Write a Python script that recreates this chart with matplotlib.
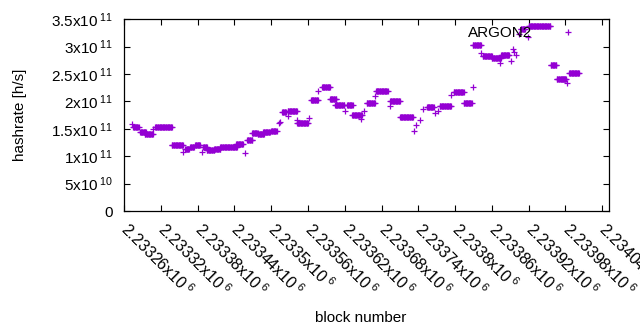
import numpy as np
import matplotlib.pyplot as plt

plt.rcParams['font.family'] = ['Liberation Sans', 'DejaVu Sans']
plt.rcParams['mathtext.fontset'] = 'custom'
plt.rcParams['mathtext.rm'] = 'Liberation Sans'
plt.rcParams['mathtext.it'] = 'Liberation Sans'

# runs of blocks with (almost) the same hashrate
run_start = [2233273, 2233275, 2233286, 2233294, 2233308, 2233311, 2233338, 2233357,
             2233360, 2233368, 2233376, 2233387, 2233389, 2233395, 2233407, 2233417,
             2233443, 2233457, 2233461, 2233469, 2233478, 2233487, 2233500, 2233512,
             2233514, 2233518, 2233527, 2233527, 2233542, 2233542, 2233561, 2233565,
             2233577, 2233583, 2233596, 2233604, 2233620, 2233624, 2233632, 2233646,
             2233651, 2233656, 2233670, 2233671, 2233694, 2233694, 2233710, 2233733,
             2233737, 2233743, 2233748, 2233754, 2233767, 2233772, 2233775, 2233794,
             2233798, 2233814, 2233829, 2233829, 2233842, 2233845, 2233860, 2233874,
             2233875, 2233891, 2233894, 2233896, 2233900, 2233905, 2233907, 2233919,
             2233920, 2233956, 2233966, 2233976, 2233983, 2233986]
run_end = [2233273, 2233284, 2233296, 2233307, 2233308, 2233338, 2233356, 2233357,
           2233366, 2233374, 2233384, 2233387, 2233395, 2233407, 2233417, 2233444,
           2233454, 2233457, 2233469, 2233478, 2233488, 2233498, 2233509, 2233512,
           2233514, 2233524, 2233527, 2233542, 2233542, 2233560, 2233561, 2233576,
           2233577, 2233596, 2233606, 2233619, 2233620, 2233633, 2233648, 2233646,
           2233651, 2233669, 2233670, 2233690, 2233694, 2233710, 2233731, 2233733,
           2233737, 2233743, 2233748, 2233765, 2233767, 2233772, 2233793, 2233794,
           2233814, 2233827, 2233829, 2233842, 2233842, 2233860, 2233875, 2233874,
           2233888, 2233891, 2233894, 2233896, 2233900, 2233905, 2233914, 2233919,
           2233955, 2233965, 2233976, 2233981, 2233983, 2234002]
run_value = [1.586, 1.531, 1.435, 1.413, 1.489, 1.526, 1.198, 1.081,
             1.125, 1.172, 1.203, 1.081, 1.172, 1.112, 1.125, 1.176,
             1.221, 1.052, 1.294, 1.416, 1.398, 1.435, 1.464, 1.599,
             1.628, 1.799, 1.732, 1.823, 1.659, 1.610, 1.701, 2.023,
             2.193, 2.255, 2.036, 1.927, 1.828, 1.927, 1.744, 1.672,
             1.828, 1.974, 2.096, 2.187, 1.914, 2.000, 1.708, 1.464,
             1.568, 1.659, 1.854, 1.890, 1.792, 1.828, 1.914, 2.114,
             2.164, 1.981, 2.255, 3.026, 2.886, 2.831, 2.802, 2.703,
             2.844, 2.734, 2.953, 2.904, 2.856, 3.239, 3.330, 3.177,
             3.372, 2.674, 2.419, 2.401, 2.328, 2.528]  # x10^11 h/s

x_ticks = [2233260, 2233320, 2233380, 2233440, 2233500, 2233560, 2233620,
           2233680, 2233740, 2233800, 2233860, 2233920, 2233980, 2234040]
x_tick_labels = ["2.23326", "2.23332", "2.23338", "2.23344", "2.2335", "2.23356",
                 "2.23362", "2.23368", "2.23374", "2.2338", "2.23386", "2.23392",
                 "2.23398", "2.23404"]
y_ticks = [0, 0.5e11, 1e11, 1.5e11, 2e11, 2.5e11, 3e11, 3.5e11]
y_tick_labels = ["0", "5x10$^{\\;10}$", "1x10$^{\\;11}$", "1.5x10$^{\\;11}$", "2x10$^{\\;11}$",
                 "2.5x10$^{\\;11}$", "3x10$^{\\;11}$", "3.5x10$^{\\;11}$"]

blocks = np.concatenate([np.arange(s, e + 1) for s, e in zip(run_start, run_end)])
rates = np.concatenate([np.full(e - s + 1, v) for s, e, v in zip(run_start, run_end, run_value)]) * 1e11

fig = plt.figure(figsize=(6.4, 3.3), dpi=100)
ax = fig.add_axes([0.19375, 0.3606, 0.7578, 0.5809])

ax.plot(blocks, rates, linestyle='none', marker='+', color='#9400D3',
        markersize=5, markeredgewidth=0.9, label='ARGON2')

ax.set_xlim(2233260, 2234051)
ax.set_ylim(0, 3.5e11)
ax.set_xticks(x_ticks)
ax.set_xticklabels([l + "x10$^{\\;6}$" for l in x_tick_labels], rotation=-45,
                   ha='left', va='center', rotation_mode='anchor', fontsize=11.5)
ax.set_yticks(y_ticks)
ax.set_yticklabels(y_tick_labels, fontsize=11)
ax.tick_params(direction='in', top=True, right=True, length=4, width=0.8)
ax.tick_params(axis='y', pad=8)
ax.tick_params(axis='x', pad=11)
for s in ax.spines.values():
    s.set_linewidth(0.9)

ax.set_xlabel("block number", fontsize=11)
ax.set_ylabel("hashrate [h/s]", fontsize=11)
ax.xaxis.set_label_coords(0.487, -0.52)
ax.yaxis.set_label_coords(-0.20, 0.5)

ax.legend(loc='upper right', bbox_to_anchor=(0.9526, 0.965), frameon=False,
          markerfirst=False, numpoints=1, handlelength=2.4, handletextpad=1.1,
          borderpad=0, borderaxespad=0, fontsize=11)

fig.savefig("out.png", dpi=100)
